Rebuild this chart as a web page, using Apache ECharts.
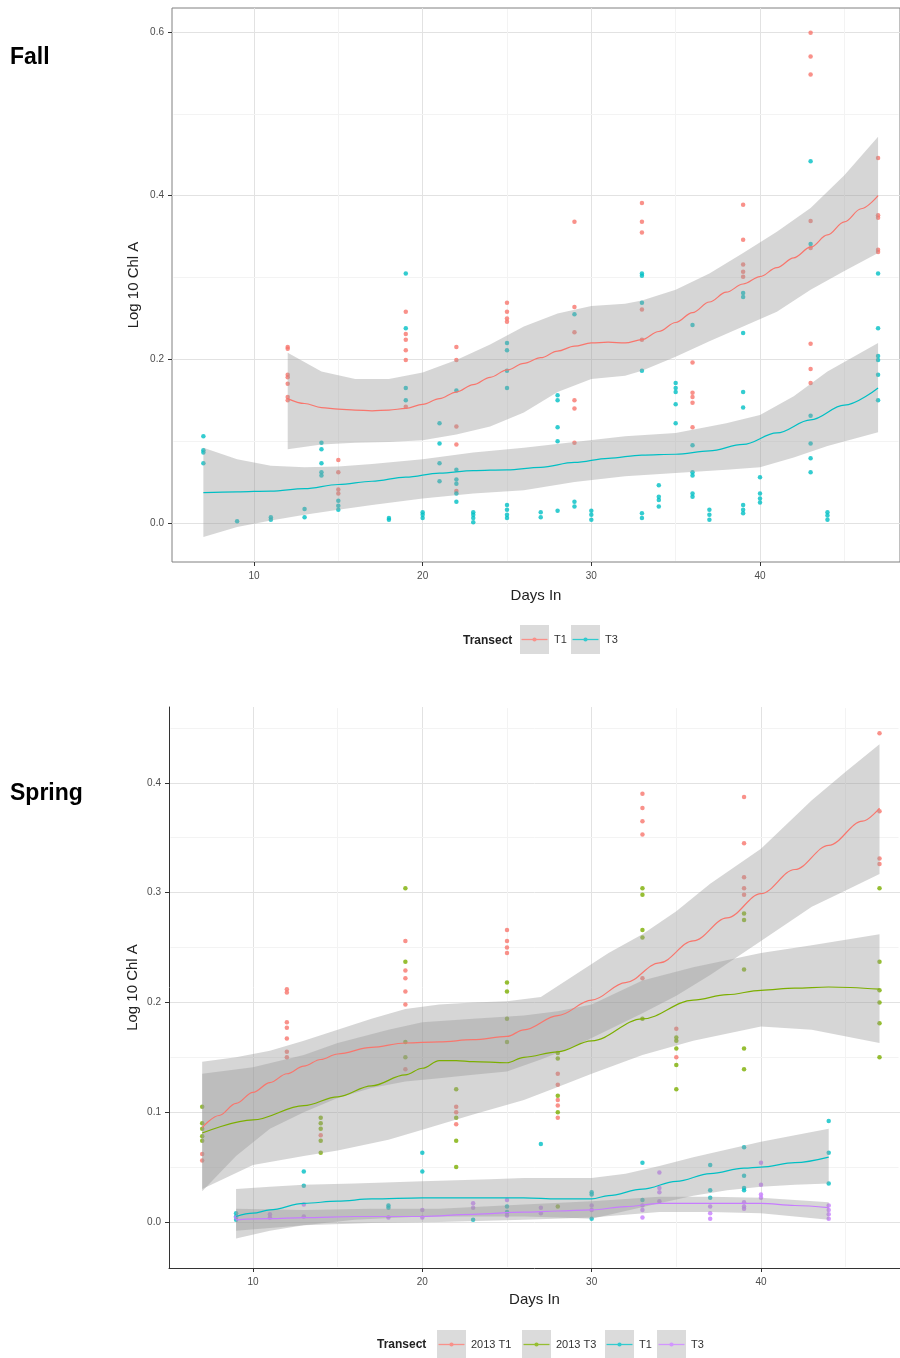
<!DOCTYPE html>
<html><head><meta charset="utf-8">
<script src="https://cdn.jsdelivr.net/npm/echarts@6/dist/echarts.min.js"></script>
<style>html,body{margin:0;padding:0;background:#fff}#chart{width:900px;height:1358px}</style>
</head><body><div id="chart"></div>
<script>
// ---------------- DATA ----------------
const X_TICKS = [10, 20, 30, 40];
const FALL_Y_TICKS = [0, 0.2, 0.4, 0.6];
const SPRING_Y_TICKS = [0, 0.1, 0.2, 0.3, 0.4];

// Fall, T1 (points [day, log10 chl a])
const FALL_T1_POINTS = [
  [12,0.215],[12,0.213],[12,0.181],[12,0.178],[12,0.170],[12,0.154],[12,0.150],
  [15,0.077],[15,0.062],[15,0.041],[15,0.036],
  [19,0.258],[19,0.231],[19,0.224],[19,0.211],[19,0.199],[19,0.142],
  [22,0.215],[22,0.199],[22,0.118],[22,0.096],[22,0.039],
  [25,0.269],[25,0.258],[25,0.250],[25,0.246],
  [29,0.368],[29,0.264],[29,0.233],[29,0.150],[29,0.140],[29,0.098],
  [33,0.391],[33,0.368],[33,0.355],[33,0.261],[33,0.224],
  [36,0.196],[36,0.159],[36,0.154],[36,0.147],[36,0.117],
  [39,0.389],[39,0.346],[39,0.316],[39,0.307],[39,0.301],
  [43,0.599],[43,0.570],[43,0.548],[43,0.369],[43,0.336],[43,0.219],[43,0.188],[43,0.171],
  [47,0.446],[47,0.376],[47,0.373],[47,0.334],[47,0.331]
];
// Fall, T3
const FALL_T3_POINTS = [
  [7,0.106],[7,0.089],[7,0.086],[7,0.073],
  [9,0.002],[11,0.007],[11,0.004],[13,0.017],[13,0.007],
  [14,0.098],[14,0.090],[14,0.073],[14,0.062],[14,0.058],
  [15,0.027],[15,0.021],[15,0.016],[18,0.006],[18,0.004],
  [19,0.305],[19,0.238],[19,0.165],[19,0.150],
  [20,0.013],[20,0.010],[20,0.006],
  [21,0.122],[21,0.097],[21,0.073],[21,0.051],
  [22,0.162],[22,0.065],[22,0.053],[22,0.048],[22,0.036],[22,0.026],
  [23,0.013],[23,0.010],[23,0.006],[23,0.001],
  [25,0.220],[25,0.211],[25,0.186],[25,0.165],[25,0.022],[25,0.016],[25,0.010],[25,0.006],
  [27,0.013],[27,0.007],
  [28,0.156],[28,0.150],[28,0.117],[28,0.100],[28,0.015],
  [29,0.255],[29,0.026],[29,0.020],
  [30,0.015],[30,0.010],[30,0.004],
  [33,0.305],[33,0.302],[33,0.269],[33,0.186],[33,0.012],[33,0.006],
  [34,0.046],[34,0.032],[34,0.028],[34,0.020],
  [35,0.171],[35,0.165],[35,0.160],[35,0.145],[35,0.122],
  [36,0.242],[36,0.095],[36,0.062],[36,0.058],[36,0.036],[36,0.032],
  [37,0.016],[37,0.010],[37,0.004],
  [39,0.281],[39,0.276],[39,0.232],[39,0.160],[39,0.141],[39,0.022],[39,0.016],[39,0.012],
  [40,0.056],[40,0.036],[40,0.030],[40,0.025],
  [43,0.442],[43,0.341],[43,0.131],[43,0.097],[43,0.079],[43,0.062],
  [44,0.013],[44,0.009],[44,0.004],
  [47,0.305],[47,0.238],[47,0.204],[47,0.199],[47,0.181],[47,0.150]
];
const FALL_T1_FIT = [
  [12,0.152],[13,0.146],[14,0.141],[15,0.139],[16,0.138],[17,0.137],[18,0.138],[19,0.140],
  [20,0.145],[21,0.152],[22,0.160],[23,0.169],[24,0.178],[25,0.187],[26,0.195],[27,0.202],
  [28,0.210],[29,0.216],[30,0.220],[31,0.221],[32,0.220],[33,0.224],[34,0.234],[35,0.245],
  [36,0.257],[37,0.270],[38,0.282],[39,0.292],[40,0.301],[41,0.312],[42,0.324],[43,0.337],
  [44,0.352],[45,0.368],[46,0.384],[47,0.400]
];
// [day, lower, upper]
const FALL_T1_BAND = [
  [12,0.090,0.208],[14,0.096,0.185],[16,0.098,0.176],[18,0.099,0.176],[20,0.101,0.184],
  [22,0.108,0.199],[24,0.118,0.218],[26,0.135,0.240],[28,0.160,0.256],[30,0.176,0.265],
  [32,0.180,0.268],[33,0.186,0.272],[35,0.203,0.285],[37,0.222,0.305],[39,0.240,0.330],
  [41,0.258,0.356],[43,0.285,0.385],[45,0.308,0.425],[47,0.330,0.472]
];
const FALL_T3_FIT = [
  [7,0.037],[9,0.038],[11,0.039],[13,0.042],[15,0.047],[17,0.051],[19,0.056],[21,0.061],
  [23,0.064],[25,0.065],[27,0.068],[29,0.074],[31,0.079],[33,0.083],[35,0.084],[37,0.088],
  [39,0.096],[41,0.110],[43,0.126],[45,0.144],[47,0.165]
];
const FALL_T3_BAND = [
  [7,-0.017,0.092],[9,-0.005,0.078],[11,0.003,0.070],[13,0.010,0.068],[15,0.016,0.069],
  [17,0.022,0.072],[20,0.030,0.078],[23,0.036,0.086],[26,0.040,0.092],[29,0.050,0.099],
  [32,0.057,0.106],[35,0.061,0.110],[38,0.065,0.122],[40,0.068,0.132],[42,0.080,0.155],
  [44,0.094,0.185],[47,0.111,0.220]
];

// Spring
const SPR_2013T1_POINTS = [
  [7,0.062],[7,0.056],
  [12,0.212],[12,0.209],[12,0.182],[12,0.177],[12,0.167],[12,0.155],[12,0.150],
  [14,0.079],
  [19,0.256],[19,0.229],[19,0.222],[19,0.210],[19,0.198],[19,0.139],
  [22,0.105],[22,0.100],[22,0.089],
  [25,0.266],[25,0.256],[25,0.250],[25,0.245],
  [28,0.135],[28,0.125],[28,0.111],[28,0.106],[28,0.095],
  [33,0.390],[33,0.377],[33,0.365],[33,0.353],[33,0.222],
  [35,0.176],[35,0.150],
  [39,0.387],[39,0.345],[39,0.314],[39,0.304],[39,0.298],
  [47,0.445],[47,0.374],[47,0.331],[47,0.326]
];
const SPR_2013T3_POINTS = [
  [7,0.105],[7,0.090],[7,0.085],[7,0.078],[7,0.074],
  [14,0.095],[14,0.090],[14,0.085],[14,0.074],[14,0.063],
  [19,0.304],[19,0.237],[19,0.164],[19,0.150],
  [22,0.121],[22,0.095],[22,0.074],[22,0.050],
  [25,0.218],[25,0.210],[25,0.185],[25,0.164],
  [28,0.154],[28,0.149],[28,0.115],[28,0.100],[28,0.014],
  [33,0.304],[33,0.298],[33,0.266],[33,0.259],[33,0.185],
  [35,0.168],[35,0.165],[35,0.158],[35,0.143],[35,0.121],
  [39,0.281],[39,0.275],[39,0.230],[39,0.158],[39,0.139],
  [47,0.304],[47,0.237],[47,0.211],[47,0.200],[47,0.181],[47,0.150]
];
const SPR_T1_POINTS = [
  [9,0.008],[9,0.005],[9,0.002],[13,0.046],[13,0.033],[18,0.015],[18,0.013],
  [20,0.063],[20,0.046],[23,0.002],[25,0.014],[25,0.009],[27,0.071],
  [30,0.027],[30,0.025],[30,0.003],[33,0.054],[33,0.020],
  [37,0.052],[37,0.029],[37,0.022],[39,0.068],[39,0.042],[39,0.031],[39,0.029],
  [44,0.092],[44,0.063],[44,0.035]
];
const SPR_T3_POINTS = [
  [9,0.004],[11,0.007],[11,0.004],[13,0.016],[13,0.005],[18,0.004],[20,0.011],[20,0.004],
  [23,0.017],[23,0.013],[25,0.020],[25,0.006],[27,0.013],[27,0.008],[30,0.015],[30,0.011],
  [33,0.015],[33,0.011],[33,0.004],[34,0.045],[34,0.031],[34,0.027],[34,0.019],
  [37,0.014],[37,0.008],[37,0.003],[39,0.018],[39,0.014],[39,0.012],
  [40,0.054],[40,0.034],[40,0.025],[40,0.022],
  [44,0.015],[44,0.011],[44,0.007],[44,0.003]
];
const SPR_2013T1_FIT = [
  [7,0.086],[8,0.097],[9,0.108],[10,0.118],[11,0.127],[12,0.135],[13,0.142],[14,0.148],
  [15,0.153],[17,0.159],[19,0.163],[21,0.164],[23,0.166],[25,0.169],[26,0.175],[28,0.188],
  [30,0.202],[32,0.218],[34,0.236],[36,0.256],[38,0.277],[40,0.299],[42,0.321],[44,0.343],
  [46,0.365],[47,0.377]
];
const SPR_2013T1_BAND = [
  [7,0.028,0.146],[9,0.060,0.150],[11,0.085,0.156],[13,0.100,0.165],[15,0.113,0.175],
  [17,0.122,0.185],[19,0.128,0.194],[21,0.131,0.198],[23,0.134,0.200],[25,0.137,0.201],
  [27,0.148,0.205],[29,0.160,0.225],[31,0.175,0.245],[33,0.190,0.262],[35,0.206,0.283],
  [37,0.225,0.308],[40,0.256,0.340],[43,0.287,0.384],[45,0.302,0.410],[47,0.317,0.435]
];
const SPR_2013T3_FIT = [
  [7,0.081],[10,0.093],[13,0.106],[15,0.114],[17,0.124],[19,0.134],[20,0.140],[21,0.147],
  [22,0.147],[23,0.146],[25,0.145],[26,0.150],[28,0.155],[30,0.165],[33,0.185],[36,0.202],
  [38,0.207],[40,0.211],[42,0.213],[44,0.214],[47,0.212]
];
const SPR_2013T3_BAND = [
  [7,0.030,0.135],[10,0.052,0.141],[13,0.060,0.152],[15,0.065,0.163],[18,0.075,0.175],
  [20,0.084,0.182],[23,0.098,0.185],[26,0.111,0.188],[28,0.123,0.192],[30,0.135,0.198],
  [33,0.152,0.220],[36,0.165,0.232],[40,0.178,0.245],[43,0.175,0.252],[47,0.163,0.262]
];
const SPR_T1_FIT = [
  [9,0.005],[10,0.008],[11,0.011],[13,0.017],[15,0.019],[17,0.021],[20,0.022],[23,0.022],
  [26,0.022],[28,0.021],[30,0.021],[31,0.024],[33,0.030],[35,0.037],[37,0.044],[39,0.049],
  [40,0.050],[42,0.054],[44,0.059]
];
const SPR_T1_BAND = [
  [9,-0.015,0.030],[11,-0.008,0.032],[13,-0.003,0.034],[16,0.002,0.035],[20,0.005,0.037],
  [24,0.005,0.039],[26,0.005,0.040],[28,0.004,0.040],[30,0.003,0.040],[32,0.010,0.044],
  [34,0.017,0.051],[36,0.024,0.059],[38,0.029,0.066],[40,0.032,0.073],[42,0.034,0.079],
  [44,0.035,0.085]
];
const SPR_T3_FIT = [
  [9,0.002],[11,0.003],[13,0.004],[16,0.005],[20,0.005],[23,0.007],[26,0.009],[28,0.010],
  [30,0.011],[32,0.014],[34,0.017],[37,0.017],[40,0.017],[42,0.015],[44,0.013]
];
const SPR_T3_BAND = [
  [9,-0.008,0.012],[13,-0.003,0.011],[17,-0.001,0.012],[21,0.000,0.012],[26,0.002,0.016],
  [30,0.004,0.019],[34,0.009,0.023],[37,0.009,0.023],[40,0.008,0.022],[42,0.005,0.020],
  [44,0.002,0.018]
];

// ---------------- STYLE ----------------
const RED = '#F8766D', TEAL = '#00BFC4', OLIVE = '#7CAE00', PURPLE = '#C77CFF';
const BAND_FILL = 'rgba(153,153,153,0.4)';
const FONT = '"Liberation Sans", Arial, sans-serif';

function minors(ticks, lo, hi) {
  const step = ticks[1] - ticks[0];
  const out = [];
  for (let v = ticks[0] - step / 2; v <= hi + 1e-9; v += step) if (v > lo) out.push(+v.toFixed(4));
  return out;
}
// minor grid lines kept inside the panel so they never cover the axis lines
function minorLines(xr, yr, mx, my) {
  const ex = (xr[1] - xr[0]) * 0.002, ey = (yr[1] - yr[0]) * 0.002;
  const v = mx.map(x => [{ coord: [x, yr[0] + ey] }, { coord: [x, yr[1] - ey] }]);
  const h = my.map(y => [{ coord: [xr[0] + ex, y] }, { coord: [xr[1] - ex, y] }]);
  return v.concat(h);
}
function scatter(name, data, color, gi, xr, yr, yt) {
  const s = { type: 'scatter', name, xAxisIndex: gi, yAxisIndex: gi, data, symbolSize: 4.5,
    itemStyle: { color }, z: 2, silent: true, animation: false };
  if (xr) {
    s.markLine = { silent: true, symbol: 'none', z: 1, animation: false, label: { show: false },
      lineStyle: { color: '#F3F3F3', width: 1, type: 'solid' },
      data: minorLines(xr, yr, minors(X_TICKS, xr[0], xr[1]), minors(yt, yr[0], yr[1])) };
  }
  return s;
}
function fit(name, data, color, gi) {
  return { type: 'line', name, xAxisIndex: gi, yAxisIndex: gi, data, smooth: 0.35, smoothMonotone: 'x',
    symbol: 'none', showSymbol: false, lineStyle: { color, width: 1.2 }, itemStyle: { color },
    z: 4, silent: true, animation: false };
}
function band(rows, gi) {
  return { type: 'custom', xAxisIndex: gi, yAxisIndex: gi, data: rows, encode: { x: 0, y: [1, 2] },
    z: 3, silent: true, animation: false,
    renderItem: (params, api) => {
      if (params.dataIndex !== 0) return null;
      const pts = [];
      rows.forEach(r => pts.push(api.coord([r[0], r[2]])));
      for (let i = rows.length - 1; i >= 0; i--) pts.push(api.coord([rows[i][0], rows[i][1]]));
      return { type: 'polygon', shape: { points: pts }, style: { fill: BAND_FILL } };
    } };
}
function keyIcon(color) {
  const svg = '<svg xmlns="http://www.w3.org/2000/svg" width="29" height="29">' +
    '<rect x="0" y="0" width="29" height="29" fill="#D3D3D3"/>' +
    '<line x1="1.5" y1="14.5" x2="27.5" y2="14.5" stroke="' + color + '" stroke-width="1.3"/>' +
    '<circle cx="14.5" cy="14.5" r="2.1" fill="' + color + '"/></svg>';
  return 'image://data:image/svg+xml;charset=utf-8,' + encodeURIComponent(svg);
}
function legendItem(name, color, left, top) {
  return { left, top, padding: 0, orient: 'horizontal', itemWidth: 29, itemHeight: 29, itemGap: 0,
    selectedMode: false, textStyle: { fontSize: 11, color: '#333', fontFamily: FONT },
    data: [{ name, icon: keyIcon(color) }] };
}
function xAxis(gi, min, max, gridded) {
  return { gridIndex: gi, type: 'value', min, max, splitNumber: 4,
    axisLine: { show: !gridded, onZero: false, lineStyle: { color: '#333', width: 1 } },
    axisTick: { show: true, length: 4, lineStyle: { color: '#333' }, customValues: X_TICKS },
    axisLabel: { customValues: X_TICKS, color: '#4d4d4d', fontSize: 10, margin: 9, fontFamily: FONT },
    splitLine: { show: true, lineStyle: { color: '#E2E2E2', width: 1 } },
    name: 'Days In', nameLocation: 'middle', nameGap: gi === 0 ? 26 : 24, nameMoveOverlap: false,
    nameTextStyle: { fontSize: 15, color: '#222', fontFamily: FONT } };
}
function yAxis(gi, min, max, ticks, splitNumber, gridded, gap) {
  return { gridIndex: gi, type: 'value', min, max, splitNumber,
    axisLine: { show: !gridded, onZero: false, lineStyle: { color: '#333', width: 1 } },
    axisTick: { show: true, length: 4, lineStyle: { color: '#333' }, customValues: ticks },
    axisLabel: { customValues: ticks, color: '#4d4d4d', fontSize: 10, margin: 8, fontFamily: FONT,
      formatter: v => v.toFixed(1) },
    splitLine: { show: true, lineStyle: { color: '#E2E2E2', width: 1 } },
    name: 'Log 10 Chl A', nameLocation: 'middle', nameGap: gap, nameRotate: 90, nameMoveOverlap: false,
    nameTextStyle: { fontSize: 15, color: '#222', fontFamily: FONT } };
}

const FALL_X = [5.14, 48.3], FALL_Y = [-0.0477, 0.6293];
const SPR_X = [5.04, 48.21], SPR_Y = [-0.0419, 0.469];

const option = {
  backgroundColor: '#fff',
  textStyle: { fontFamily: FONT },
  animation: false,
  grid: [
    { left: 172, top: 8, width: 728, height: 554, show: true, borderColor: '#808080', borderWidth: 1,
      backgroundColor: 'transparent' },
    { left: 169, top: 707, width: 731, height: 561, show: false }
  ],
  xAxis: [xAxis(0, FALL_X[0], FALL_X[1], true), xAxis(1, SPR_X[0], SPR_X[1], false)],
  yAxis: [yAxis(0, FALL_Y[0], FALL_Y[1], FALL_Y_TICKS, 3, true, 31),
          yAxis(1, SPR_Y[0], SPR_Y[1], SPRING_Y_TICKS, 5, false, 29)],
  legend: [
    legendItem('T1', RED, 520, 625), legendItem('T3', TEAL, 571, 625),
    legendItem('2013 T1', RED, 437, 1330), legendItem('2013 T3', OLIVE, 522, 1330),
    legendItem('T1', TEAL, 605, 1330), legendItem('T3', PURPLE, 657, 1330)
  ],
  graphic: [
    { type: 'text', left: 10, top: 46, style: { text: 'Fall', fill: '#000', font: 'bold 23px "Liberation Sans", Arial, sans-serif' } },
    { type: 'text', left: 10, top: 782, style: { text: 'Spring', fill: '#000', font: 'bold 23px "Liberation Sans", Arial, sans-serif' } },
    { type: 'text', left: 463, top: 635, style: { text: 'Transect', fill: '#222', font: 'bold 12px "Liberation Sans", Arial, sans-serif' } },
    { type: 'text', left: 377, top: 1339, style: { text: 'Transect', fill: '#222', font: 'bold 12px "Liberation Sans", Arial, sans-serif' } }
  ],
  series: [
    scatter('T1', FALL_T1_POINTS, RED, 0, FALL_X, FALL_Y, FALL_Y_TICKS),
    scatter('T3', FALL_T3_POINTS, TEAL, 0),
    band(FALL_T1_BAND, 0), band(FALL_T3_BAND, 0),
    fit('T1', FALL_T1_FIT, RED, 0), fit('T3', FALL_T3_FIT, TEAL, 0),

    scatter('2013 T1', SPR_2013T1_POINTS, RED, 1, SPR_X, SPR_Y, SPRING_Y_TICKS),
    scatter('2013 T3', SPR_2013T3_POINTS, OLIVE, 1),
    scatter('T1 ', SPR_T1_POINTS, TEAL, 1),
    scatter('T3 ', SPR_T3_POINTS, PURPLE, 1),
    band(SPR_2013T1_BAND, 1), band(SPR_2013T3_BAND, 1), band(SPR_T1_BAND, 1), band(SPR_T3_BAND, 1),
    fit('2013 T1', SPR_2013T1_FIT, RED, 1), fit('2013 T3', SPR_2013T3_FIT, OLIVE, 1),
    fit('T1 ', SPR_T1_FIT, TEAL, 1), fit('T3 ', SPR_T3_FIT, PURPLE, 1)
  ]
};
const chart = echarts.init(document.getElementById('chart'), null, { renderer: 'canvas' });
chart.setOption(option);
</script></body></html>
